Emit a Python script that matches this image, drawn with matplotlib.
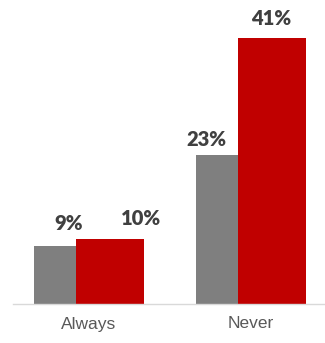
import matplotlib.pyplot as plt
import numpy as np

categories = ["Always", "Never"]
gray_values = [9, 23]
red_values = [10, 41]
gray_labels = ["9%", "23%"]
red_labels = ["10%", "41%"]

# label nudges in pixels (the original labels aren't centred on their bars)
gray_nudge = [(14, 13), (-11, 6)]
red_nudge = [(31, 11), (-1, 10)]

fig = plt.figure(figsize=(3.25, 3.43), dpi=100)
ax = fig.add_axes([13 / 325, 39 / 343, 312 / 325, 304 / 343])

x = np.arange(len(categories))
gray_w = 0.26
red_w = 0.42
gray_x = x - 0.21
red_x = x + 0.13

gb = ax.bar(gray_x, gray_values, width=gray_w, color="#7f7f7f")
rb = ax.bar(red_x, red_values, width=red_w, color="#c00000")

for bars, labels, nudges in [(gb, gray_labels, gray_nudge), (rb, red_labels, red_nudge)]:
    for b, lab, (dx, dy) in zip(bars, labels, nudges):
        ax.annotate(lab, (b.get_x() + b.get_width() / 2, b.get_height()),
                    xytext=(dx, dy), textcoords="offset pixels",
                    ha="center", va="bottom", fontsize=14.5, fontweight="heavy",
                    color="#404040", family="Lato")

ax.set_xlim(-0.469, 1.457)
ax.set_ylim(0, 46.8)
ax.set_xticks(x)
ax.set_xticklabels(categories, fontsize=12.5, color="#595959", family="Liberation Sans")
ax.tick_params(axis="x", length=0, pad=9)
ax.set_yticks([])
for s in ["top", "right", "left"]:
    ax.spines[s].set_visible(False)
ax.spines["bottom"].set_color("#d9d9d9")
ax.spines["bottom"].set_linewidth(1)

fig.savefig("out.png", dpi=100)
